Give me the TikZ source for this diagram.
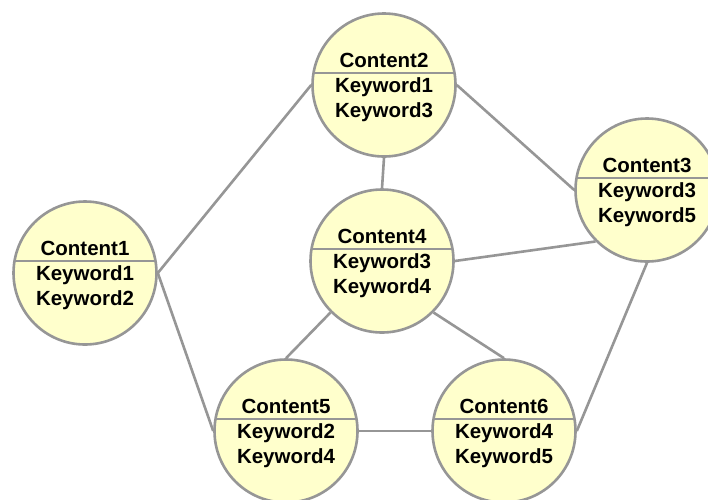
\documentclass[tikz,border=0pt]{standalone}
\usepackage{fontspec}
\setmainfont{Liberation Sans}
\usetikzlibrary{calc}
\definecolor{linegray}{RGB}{150,150,150}
\definecolor{fillyellow}{RGB}{255,255,204}
\newcommand\mkbubble[6]{%
  \node[bubble] (#1) at (#2,#3) {};
  \draw[link] ($(#1.center)+(-70.5,-12)$) -- ($(#1.center)+(70.5,-12)$);
  \node[lbl] (#1t) at ($(#1.center)+(0,-18)$) {#4};
  \node[lbl] (#1a) at ($(#1.center)+(0,7.5)$) {#5};
  \node[lbl] (#1b) at ($(#1.center)+(0,32.5)$) {#6};
}
\begin{document}
\begin{tikzpicture}[x=1pt,y=-1pt,
  bubble/.style={circle, draw=linegray, fill=fillyellow, line width=2.6pt, minimum size=143pt, inner sep=0pt},
  link/.style={draw=linegray, line width=2.6pt},
  lbl/.style={font=\fontsize{20.5}{24}\selectfont\bfseries, anchor=base, inner sep=0pt}]
\clip (0,0) rectangle (708,499);
\fill[white] (0,0) rectangle (708,499);
\mkbubble{c1}{85}{273}{Content1}{Keyword1}{Keyword2}
\mkbubble{c2}{384}{85}{Content2}{Keyword1}{Keyword3}
\mkbubble{c3}{647}{190}{Content3}{Keyword3}{Keyword5}
\mkbubble{c4}{382}{261}{Content4}{Keyword3}{Keyword4}
\mkbubble{c5}{286}{431}{Content5}{Keyword2}{Keyword4}
\mkbubble{c6}{504}{431}{Content6}{Keyword4}{Keyword5}
\draw[link] (c1.east) -- (c2.west);
\draw[link] (c1.east) -- (c5.west);
\draw[link] (c2.east) -- (c3.west);
\draw[link] (c2.south) -- (c4.north);
\draw[link] (c4.east) -- (c3.south west);
\draw[link] (c3.south) -- (c6.east);
\draw[link] (c4.south west) -- (c5.north);
\draw[link] (c4.south east) -- (c6.north);
\draw[link] (c5.east) -- (c6.west);
\end{tikzpicture}
\end{document}
